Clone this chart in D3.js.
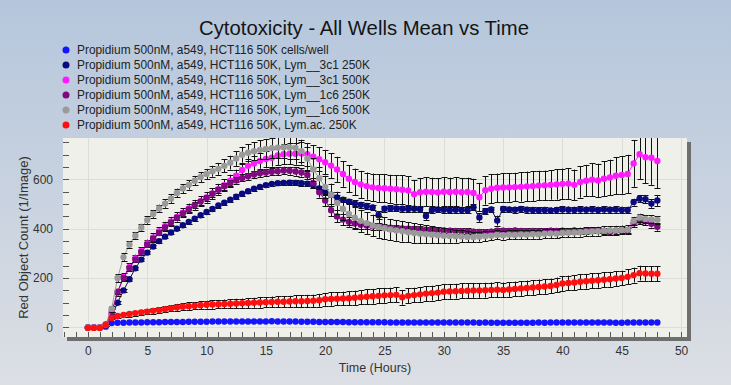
<!DOCTYPE html>
<html><head><meta charset="utf-8">
<script src="https://cdn.jsdelivr.net/npm/d3@7"></script>
<style>body{margin:0;padding:0;overflow:hidden}svg{display:block}text{font-family:"Liberation Sans",Arial,sans-serif}</style>
</head><body>
<script>
// ---------- DATA ----------
const hours = [
 0,0.5,1,1.5,2,2.5,3,3.5,4,4.5,
 5,5.5,6,6.5,7,7.5,8,8.5,9,9.5,
 10,10.5,11,11.5,12,12.5,13,13.5,14,14.5,
 15,15.5,16,16.5,17,17.5,18,18.5,19,19.5,
 20,20.5,21,21.5,22,22.5,23,23.5,24,24.5,
 25,25.5,26,26.5,27,27.5,28,28.5,29,29.5,
 30,30.5,31,31.5,32,32.5,33,33.5,34,34.5,
 35,35.5,36,36.5,37,37.5,38,38.5,39,39.5,
 40,40.5,41,41.5,42,42.5,43,43.5,44,44.5,
 45,45.5,46,46.5,47,47.5,48];

const seriesNames = [
 "Propidium 500nM, a549, HCT116 50K cells/well",
 "Propidium 500nM, a549, HCT116 50K, Lym__3c1 250K",
 "Propidium 500nM, a549, HCT116 50K, Lym__3c1 500K",
 "Propidium 500nM, a549, HCT116 50K, Lym__1c6 250K",
 "Propidium 500nM, a549, HCT116 50K, Lym__1c6 500K",
 "Propidium 500nM, a549, HCT116 50K, Lym.ac. 250K"];
const seriesColors = ["#1414ff","#0a0a80","#ff1aff","#800a80","#9a9a9a","#ff1010"];

const cellsOnly = [
 0,0,0,3,18,19,19,20,20,20,
 21,21,21,22,22,22,22,23,23,23,
 23,24,24,24,24,24,24,24,24,24,
 24,25,24,24,24,24,23,23,23,22,
 22,22,22,22,21,21,21,21,21,21,
 21,20,20,20,20,20,20,20,20,20,
 20,20,20,20,20,20,19,20,19,19,
 19,19,19,19,19,19,20,19,20,20,
 20,20,20,20,20,20,20,20,20,19,
 19,20,20,20,20,20,20];
const cellsOnlyErr = [
 0,0,0,1,2,2,2,2,2,2,
 2,2,2,2,2,2,2,2,2,2,
 2,2,2,2,2,2,2,2,2,2,
 2,2,2,2,2,2,2,2,2,2,
 2,2,2,2,2,2,2,2,2,2,
 2,2,2,2,2,2,2,2,2,2,
 2,2,2,2,2,2,2,2,2,2,
 2,2,2,2,2,2,2,2,2,2,
 2,2,2,2,2,2,2,2,2,2,
 2,2,2,2,2,2,2];

const lym3c1_250 = [
 0,0,0,8,42,100,150,195,240,275,
 303,328,350,368,385,400,414,428,441,455,
 468,480,494,506,518,530,542,552,562,570,
 577,582,585,586,587,586,585,583,576,563,
 549,538,527,518,510,503,497,492,486,455,
 481,483,482,481,480,481,479,452,476,478,
 477,475,477,476,475,487,446,471,478,433,
 480,478,477,480,477,476,475,476,474,476,
 478,477,476,478,477,478,476,478,477,478,
 476,476,508,522,520,502,515];
const lym3c1_250Err = [
 0,0,0,3,5,6,6,6,6,6,
 6,6,7,7,7,7,7,7,8,8,
 8,8,8,8,8,9,9,9,9,9,
 9,9,9,9,10,10,10,10,10,10,
 11,11,11,11,11,12,12,12,12,16,
 12,12,12,12,12,12,12,16,12,12,
 12,12,12,12,12,12,18,12,12,20,
 12,12,12,12,12,12,12,12,12,12,
 13,13,13,13,13,13,13,13,13,13,
 13,13,14,15,16,17,22];

const lym3c1_500 = [
 0,0,0,10,65,140,205,245,280,310,
 340,365,390,410,430,448,465,482,497,512,
 527,543,560,577,595,615,638,655,665,675,
 683,688,697,702,704,704,705,702,692,682,
 670,656,640,622,603,590,580,573,568,565,
 564,562,560,558,555,540,548,550,549,547,
 550,549,550,548,549,545,528,556,562,566,
 567,568,569,570,572,573,575,576,578,580,
 582,583,578,590,595,599,596,603,608,615,
 618,622,665,702,690,688,675];
const lym3c1_500Err = [
 0,0,0,4,10,12,14,15,15,16,
 16,17,17,18,18,19,19,20,20,21,
 21,22,22,23,24,25,26,28,30,32,
 34,36,38,40,42,44,45,46,47,48,
 50,50,52,52,54,54,55,55,56,56,
 57,57,58,58,58,58,58,58,58,58,
 58,58,58,58,58,58,58,58,58,58,
 58,58,58,60,60,60,60,60,60,62,
 62,62,62,64,64,66,68,70,72,74,
 76,78,95,100,105,110,110];

const lym1c6_250 = [
 0,0,0,8,55,145,200,240,275,305,
 335,360,383,405,425,445,462,478,495,510,
 525,542,558,572,585,596,606,613,620,625,
 628,631,633,636,635,632,628,618,585,548,
 515,475,450,437,428,421,416,413,410,408,
 406,404,402,401,400,399,398,396,395,394,
 393,392,391,390,389,388,387,386,388,392,
 392,391,393,391,390,391,389,390,392,391,
 392,390,393,391,392,394,393,391,386,392,
 394,393,422,432,430,420,408];
const lym1c6_250Err = [
 0,0,0,3,8,10,10,10,10,10,
 10,10,10,10,11,11,11,11,12,12,
 12,12,12,13,13,13,14,14,14,15,
 15,15,16,16,16,17,17,18,20,22,
 24,25,24,22,20,18,16,15,14,14,
 13,13,12,12,12,12,12,12,12,12,
 12,12,12,12,12,12,12,12,12,12,
 12,12,12,12,12,12,12,12,12,12,
 12,12,12,12,12,12,12,12,12,12,
 12,12,14,14,15,15,16];

const lym1c6_500 = [
 0,0,0,12,75,200,285,335,372,405,
 435,460,482,502,522,545,563,578,595,610,
 622,633,643,655,668,685,700,708,714,720,
 724,727,729,730,730,728,715,685,640,605,
 570,538,505,480,460,445,432,423,413,407,
 402,397,393,390,386,383,380,378,376,374,
 372,371,370,369,367,366,368,370,372,375,
 374,376,375,377,376,378,377,380,381,380,
 383,384,385,386,388,389,390,392,393,394,
 395,396,432,445,440,438,436];
const lym1c6_500Err = [
 0,0,0,5,12,15,15,15,15,15,
 15,16,16,17,17,18,18,19,19,20,
 20,22,24,26,28,30,32,34,36,38,
 40,42,44,45,46,46,46,46,46,45,
 45,45,45,45,45,45,45,45,44,44,
 44,43,42,42,40,40,38,36,34,32,
 30,28,26,24,22,20,20,20,18,18,
 18,18,18,18,18,18,18,18,18,18,
 18,18,18,18,18,18,18,18,18,18,
 18,18,16,16,16,16,16];

const lymAc_250 = [
 -2,-2,-2,12,38,46,50,54,58,61,
 64,67,70,74,78,81,84,86,88,90,
 92,93,94,95,96,97,98,99,100,101,
 102,103,104,104,105,106,106,107,108,110,
 114,115,116,117,118,120,122,124,126,128,
 130,131,132,122,128,131,134,137,139,141,
 145,146,147,148,149,150,150,151,152,153,
 152,154,156,158,160,162,164,166,168,172,
 178,180,182,185,187,189,191,193,195,198,
 200,205,212,220,219,218,218];
const lymAc_250Err = [
 0,0,0,3,6,8,9,10,10,11,
 11,12,12,13,13,14,14,15,15,16,
 16,17,17,18,18,19,19,20,20,21,
 21,22,22,23,23,24,24,25,25,26,
 26,27,27,28,28,29,29,30,30,30,
 30,30,30,30,30,30,30,30,30,30,
 30,30,30,30,30,30,30,30,30,30,
 30,30,30,30,30,30,30,30,30,30,
 30,30,30,30,30,30,30,30,30,30,
 30,30,30,30,30,30,30];

const seriesValues = [cellsOnly, lym3c1_250, lym3c1_500, lym1c6_250, lym1c6_500, lymAc_250];
const seriesErrors = [cellsOnlyErr, lym3c1_250Err, lym3c1_500Err, lym1c6_250Err, lym1c6_500Err, lymAc_250Err];
const xTickValues = [0,5,10,15,20,25,30,35,40,45,50];
const yTickValues = [0,200,400,600];
const titleText = "Cytotoxicity - All Wells Mean vs Time";
const xLabel = "Time (Hours)";
const yLabel = "Red Object Count (1/Image)";

// ---------- CHART ----------
const W = 731, H = 385;
const svg = d3.select("body").append("svg").attr("width", W).attr("height", H);
const defs = svg.append("defs");
const bg = defs.append("linearGradient").attr("id","bg").attr("x1",0).attr("y1",0).attr("x2",0).attr("y2",1);
bg.append("stop").attr("offset","0%").attr("stop-color","#b5c6dc");
bg.append("stop").attr("offset","100%").attr("stop-color","#dcdfe4");
svg.append("rect").attr("width",W).attr("height",H).attr("fill","url(#bg)");

const L = 63, R = 687, T = 138, B = 337;
const x = d3.scaleLinear().domain([-2.1, 50.5]).range([L, R]);
const y = d3.scaleLinear().domain([-39, 768]).range([B, T]);

// shadow
svg.append("rect").attr("x", L+4).attr("y", T+4).attr("width", R-L).attr("height", B-T).attr("fill", "#6e6e6e");
svg.append("rect").attr("x", L).attr("y", T).attr("width", R-L).attr("height", B-T).attr("fill", "#f0f0eb");

defs.append("clipPath").attr("id","clip").append("rect").attr("x",L).attr("y",T).attr("width",R-L).attr("height",B-T);

// grid
const grid = svg.append("g").attr("stroke","#dcdcd8").attr("stroke-width",1);
grid.selectAll("line.v").data(xTickValues.filter(d => x(d) < R)).join("line")
  .attr("x1", d => Math.round(x(d))+0.5).attr("x2", d => Math.round(x(d))+0.5).attr("y1", T).attr("y2", B);
grid.selectAll("line.h").data(yTickValues).join("line")
  .attr("y1", d => Math.round(y(d))+0.5).attr("y2", d => Math.round(y(d))+0.5).attr("x1", L).attr("x2", R);

// minor ticks
const ticks = svg.append("g").attr("stroke","#555").attr("stroke-width",1);
ticks.selectAll("line.xm").data(d3.range(-2, 51, 1)).join("line")
  .attr("x1", d => Math.round(x(d))+0.5).attr("x2", d => Math.round(x(d))+0.5)
  .attr("y1", B).attr("y2", B-5);
ticks.selectAll("line.ym").data(d3.range(0, 751, 50)).join("line")
  .attr("y1", d => Math.round(y(d))+0.5).attr("y2", d => Math.round(y(d))+0.5)
  .attr("x1", L).attr("x2", L+6);

// axes labels
const xAxis = svg.append("g").attr("transform", `translate(0,${B+9})`)
  .call(d3.axisBottom(x).tickValues(xTickValues).tickSize(0).tickPadding(0).tickFormat(d3.format("d")));
xAxis.select(".domain").remove();
xAxis.selectAll("text").attr("font-size", 12).attr("fill", "#333").style("font-family","'Liberation Sans',Arial,sans-serif");

const yAxis = svg.append("g").attr("transform", `translate(${L},0)`)
  .call(d3.axisLeft(y).tickValues(yTickValues).tickSize(0).tickPadding(10).tickFormat(d3.format("d")));
yAxis.select(".domain").remove();
yAxis.selectAll("text").attr("font-size", 12).attr("fill", "#333").style("font-family","'Liberation Sans',Arial,sans-serif");

svg.append("text").attr("x", (L+R)/2).attr("y", 372).attr("text-anchor","middle")
  .attr("font-size", 12.5).attr("fill","#333").text(xLabel);
svg.append("text").attr("transform", `translate(28,${(T+B)/2}) rotate(-90)`).attr("text-anchor","middle")
  .attr("font-size", 13).attr("fill","#333").text(yLabel);

svg.append("text").attr("x", 364).attr("y", 35).attr("text-anchor","middle")
  .attr("font-size", 20.3).attr("fill","#151515").text(titleText);

// legend
const leg = svg.append("g");
seriesNames.forEach((name, i) => {
  const yy = 50 + i*15;
  leg.append("circle").attr("cx", 66).attr("cy", yy).attr("r", 3.5).attr("fill", seriesColors[i]);
  leg.append("text").attr("x", 77).attr("y", yy+4).attr("font-size", 11.9).attr("fill","#222").text(name);
});

// data
const plot = svg.append("g").attr("clip-path","url(#clip)");
const line = d3.line().x((d,i) => x(hours[i])).y(d => y(d));
seriesValues.forEach((vals, s) => {
  const g = plot.append("g");
  g.append("path").datum(vals).attr("d", line).attr("fill","none").attr("stroke", seriesColors[s]).attr("stroke-width", 1);
  const err = seriesErrors[s];
  const eb = g.append("g").attr("stroke","#111").attr("stroke-width",1);
  vals.forEach((v, i) => {
    const e = err[i];
    if (e < 4) return;
    const cx = Math.round(x(hours[i])) + 0.5;
    const y1 = y(v + e), y2 = y(v - e);
    eb.append("line").attr("x1", cx).attr("x2", cx).attr("y1", y1).attr("y2", y2);
    eb.append("line").attr("x1", cx-3).attr("x2", cx+3).attr("y1", Math.round(y1)+0.5).attr("y2", Math.round(y1)+0.5);
    eb.append("line").attr("x1", cx-3).attr("x2", cx+3).attr("y1", Math.round(y2)+0.5).attr("y2", Math.round(y2)+0.5);
  });
  g.selectAll("path.pt").data(vals).join("path")
    .attr("transform", (d,i) => `translate(${x(hours[i])},${y(d)})`)
    .attr("d", d3.symbol().type(d3.symbolCircle).size(32))
    .attr("fill", seriesColors[s]);
});
</script>
</body></html>
